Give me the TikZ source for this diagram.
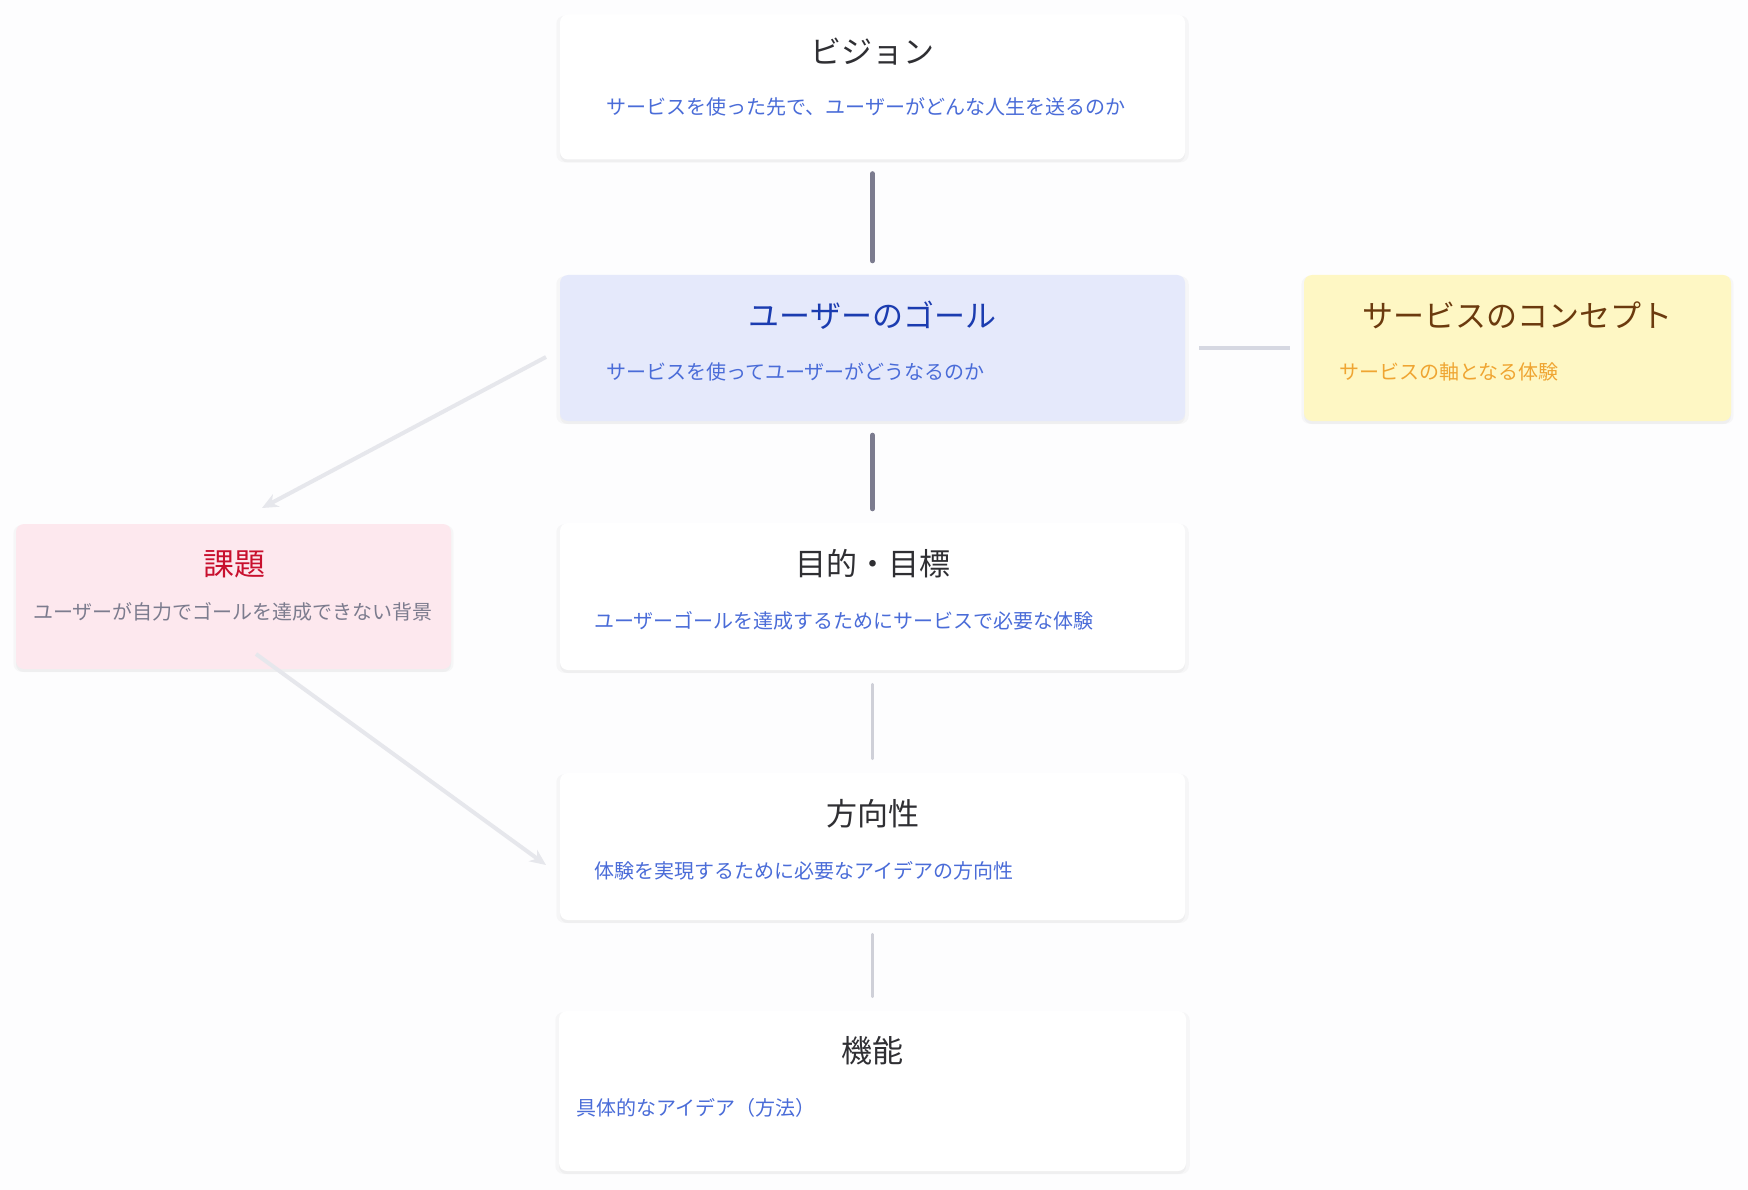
\documentclass[tikz,border=0pt]{standalone}
\usepackage{fontspec}
\setmainfont{Noto Sans CJK JP}
\usetikzlibrary{shadows,arrows.meta}
\definecolor{bg}{HTML}{FDFDFE}
\definecolor{titledark}{HTML}{2F2F33}
\definecolor{subblue}{HTML}{4A6CD8}
\definecolor{goalfill}{HTML}{E5E9FB}
\definecolor{goaltitle}{HTML}{1B3CB0}
\definecolor{conceptfill}{HTML}{FEF7C4}
\definecolor{concepttitle}{HTML}{6B3A0E}
\definecolor{conceptsub}{HTML}{EFA532}
\definecolor{issuefill}{HTML}{FDE8EE}
\definecolor{issuetitle}{HTML}{C8102E}
\definecolor{issuesub}{HTML}{7C7C8E}
\definecolor{darkconn}{HTML}{7C7C8F}
\definecolor{lightconn}{HTML}{CFD0D8}
\definecolor{sideconn}{HTML}{D6D8E2}
\definecolor{arrowgray}{HTML}{E6E7EC}
\tikzset{
  card/.style={rectangle, rounded corners=8pt, draw=none, fill=white,
    drop shadow={opacity=0.05, shadow xshift=0pt, shadow yshift=-2pt, shadow scale=1.012},
    drop shadow={opacity=0.06, shadow xshift=0pt, shadow yshift=-3pt, shadow scale=1.0}},
  ttl/.style={font=\fontsize{31}{36}\selectfont, text=titledark, inner sep=0pt},
  sub/.style={font=\fontsize{20}{24}\selectfont, text=subblue, inner sep=0pt, anchor=west},
  thickconn/.style={draw=darkconn, line width=5pt, line cap=round, shorten >=14pt, shorten <=14pt},
  thinconn/.style={draw=lightconn, line width=2.5pt, line cap=round, shorten >=14pt, shorten <=14pt},
  sideline/.style={draw=sideconn, line width=4.5pt, shorten >=14pt, shorten <=14pt},
  softarrow/.style={draw=arrowgray, line width=4pt, -{Stealth[length=16pt,width=14pt,inset=5pt]}}
}
\begin{document}
\begin{tikzpicture}[x=1pt,y=-1pt]
\useasboundingbox[fill=bg] (0,0) rectangle (1748,1190);

% boxes
\node[card, minimum width=625pt, minimum height=145pt] (vision) at (872.5,87) {};
\node[card, fill=goalfill, minimum width=625pt, minimum height=146pt] (goal) at (872.5,348) {};
\node[card, fill=conceptfill, minimum width=427pt, minimum height=146pt] (concept) at (1517.5,348) {};
\node[card, fill=issuefill, minimum width=435pt, minimum height=145pt] (issue) at (233.5,596.5) {};
\node[card, minimum width=625pt, minimum height=147pt] (objective) at (872.5,596.5) {};
\node[card, minimum width=625pt, minimum height=147pt] (direction) at (872.5,846.5) {};
\node[card, minimum width=627pt, minimum height=160pt] (function) at (872.5,1091) {};

% texts
\node[ttl] (visiont) at (872.5,52) {ビジョン};
\node[sub] (visions) at (606,107) {サービスを使った先で、ユーザーがどんな人生を送るのか};

\node[ttl, text=goaltitle] (goalt) at (872.5,315) {ユーザーのゴール};
\node[sub] (goals) at (606,372) {サービスを使ってユーザーがどうなるのか};

\node[ttl, text=concepttitle] (conceptt) at (1517,315) {サービスのコンセプト};
\node[sub, text=conceptsub] (concepts) at (1339,372) {サービスの軸となる体験};

\node[ttl, text=issuetitle] (issuet) at (234,564) {課題};
\node[sub, text=issuesub, anchor=center] (issues) at (233,612) {ユーザーが自力でゴールを達成できない背景};

\node[ttl] (objectivet) at (872.5,564) {目的・目標};
\node[sub] (objectives) at (594,621) {ユーザーゴールを達成するためにサービスで必要な体験};

\node[ttl] (directiont) at (872.5,814) {方向性};
\node[sub] (directions) at (594,871) {体験を実現するために必要なアイデアの方向性};

\node[ttl] (functiont) at (872.5,1051) {機能};
\node[sub] (functions) at (576,1108) {具体的なアイデア（方法）};

% connectors
\draw[thickconn] (vision.south) -- (goal.north);
\draw[thickconn] (goal.south) -- (objective.north);
\draw[thinconn] (objective.south) -- (direction.north);
\draw[thinconn] (direction.south) -- (function.north);
\draw[sideline] (goal.east) -- (concept.west);

\coordinate (a1s) at (546,357);
\coordinate (a1e) at (262,508);
\coordinate (a2s) at (256,654);
\coordinate (a2e) at (546,865);
\draw[softarrow] (a1s) -- (a1e);
\draw[softarrow] (a2s) -- (a2e);
\end{tikzpicture}
\end{document}
